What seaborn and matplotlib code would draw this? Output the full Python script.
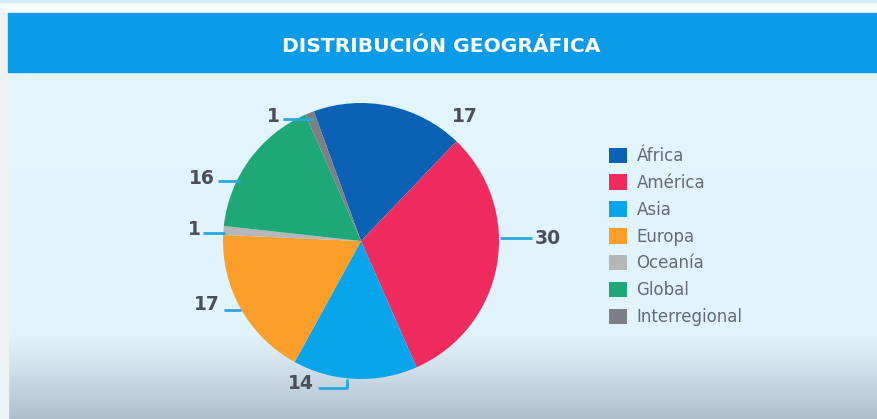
import matplotlib
matplotlib.use("Agg")
import matplotlib.pyplot as plt
import numpy as np
import seaborn as sns
from matplotlib.colors import LinearSegmentedColormap
from matplotlib.patches import Patch, Rectangle

# data
regions = ["África", "América", "Asia", "Europa", "Oceanía", "Global", "Interregional"]
counts = [17, 30, 14, 17, 1, 16, 1]
palette = ["#0b62b5", "#f02b5e", "#08a5ea", "#fb9f2a", "#b5b6b8", "#1ea777", "#7c7f86"]
title = "DISTRIBUCIÓN GEOGRÁFICA"

# canvas in pixel units (y measured from the top)
W, H = 877, 419
LINE_COLOR = "#2aa8dc"
TEXT_COLOR = "#4a4f59"

# value label placement: (x, y, ha) and leader line points, per region
label_pos = [(452, 117, "left"), (535, 238, "left"), (314, 383, "right"),
             (220, 304, "right"), (201, 229, "right"), (215, 178, "right"),
             (280, 116, "right")]
leaders = [None,
           [(500, 238), (532, 238)],
           [(318, 388), (347, 388), (347, 379)],
           [(224, 310), (241, 310)],
           [(203, 233), (225, 233)],
           [(218, 181), (240, 181)],
           [(283, 119), (313, 119)]]


def fy(y):
    return H - y


sns.set_style("white")
plt.rcParams["font.family"] = ["DejaVu Sans"]

fig = plt.figure(figsize=(W / 100, H / 100), dpi=100)
ax = fig.add_axes([0, 0, 1, 1])

# panel background with the darker band at the bottom
bg = LinearSegmentedColormap.from_list(
    "bg", [(0, "#e3f5fd"), (0.80, "#e1f4fc"), (0.88, "#d0e1ec"), (1, "#b0bfcd")])
grad = np.linspace(0, 1, 300).reshape(-1, 1)
ax.imshow(grad, cmap=bg, aspect="auto", extent=(0, W, 0, H), zorder=0)

ax.add_patch(Rectangle((0, fy(13)), W, 13, color="#f6fbfd", zorder=1))
ax.add_patch(Rectangle((0, fy(2)), W, 2, color="#d4eef9", zorder=1))
ax.add_patch(Rectangle((0, 0), 8, fy(13), color="#eef2f5", zorder=1))
ax.add_patch(Rectangle((8, fy(72)), W - 8, 59, color="#0b9be8", zorder=1))
ax.text(441, fy(47), title, color="white", fontsize=14.6, fontweight="bold",
        ha="center", va="center", zorder=3)

ax.pie(counts, colors=palette, startangle=110, counterclock=False,
       center=(361, fy(241)), radius=138, wedgeprops=dict(linewidth=0, zorder=2))

for value, (x, y, ha), pts in zip(counts, label_pos, leaders):
    ax.text(x, fy(y), str(value), fontsize=13.5, fontweight="bold",
            color=TEXT_COLOR, ha=ha, va="center", zorder=3)
    if pts:
        xs = [p[0] for p in pts]
        ys = [fy(p[1]) for p in pts]
        ax.plot(xs, ys, color=LINE_COLOR, lw=2, solid_capstyle="butt", zorder=3)

handles = [Patch(facecolor=c, edgecolor="none") for c in palette]
leg = ax.legend(handles, regions, loc="upper left",
                bbox_to_anchor=(609 / W, 1 - 147 / H), frameon=False,
                fontsize=12, handlelength=1.05, handleheight=1.05,
                handletextpad=0.6, labelspacing=0.53, borderpad=0, borderaxespad=0)
for t in leg.get_texts():
    t.set_color("#646a78")

ax.set_xlim(0, W)
ax.set_ylim(0, H)
ax.set_aspect("auto")
ax.axis("off")

fig.savefig("out.png", dpi=100)
plt.close(fig)
